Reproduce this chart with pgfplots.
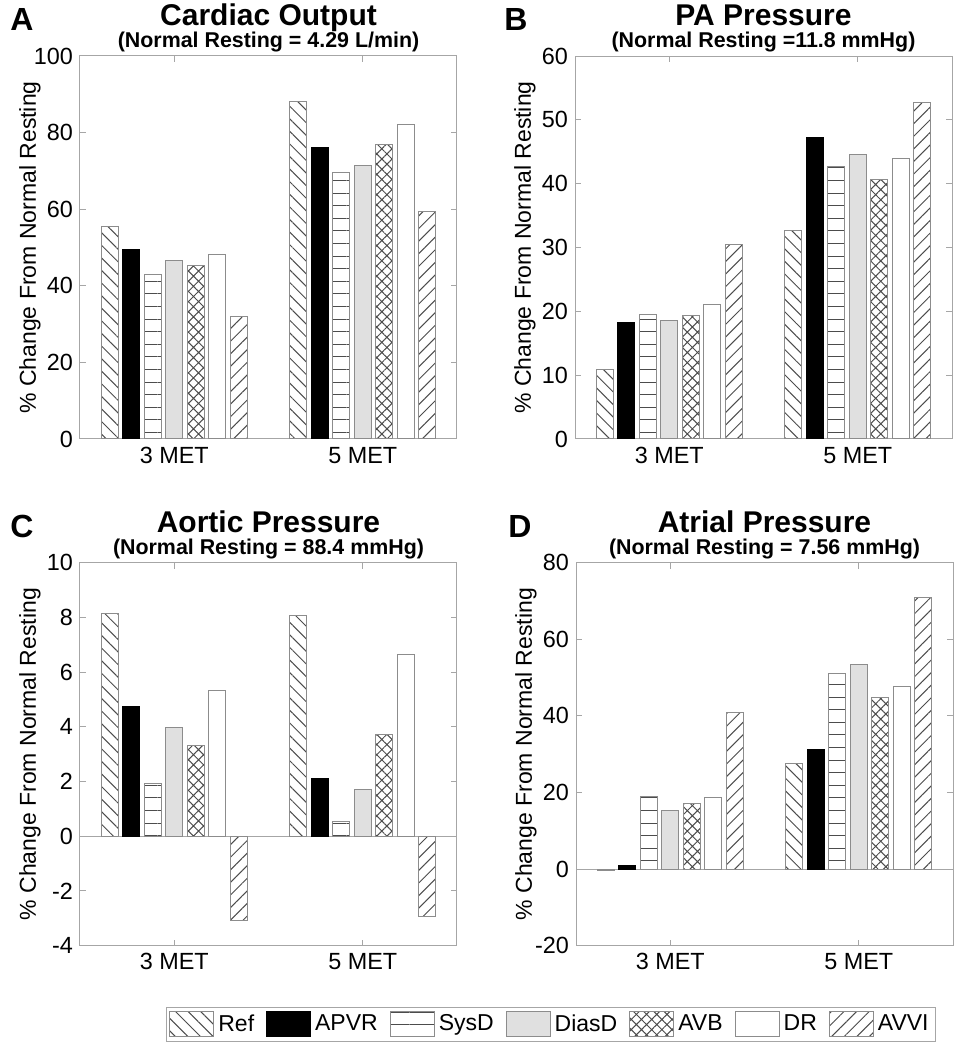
\documentclass[border=0pt]{standalone}
\usepackage{fontspec}
\setmainfont{Liberation Sans}
\usepackage{pgfplots}
\pgfplotsset{compat=1.18}
\usetikzlibrary{patterns.meta}
\definecolor{axgray}{gray}{0.65}
\definecolor{hatch}{gray}{0.3}
\definecolor{barEdge}{gray}{0.55}
\definecolor{dias}{gray}{0.88}

\pgfplotsset{
  panel/.style={
    scale only axis, width=188.5pt, height=191.5pt,
    xmin=0.5, xmax=2.5, xtick={1,2}, xticklabels={3 MET,5 MET},
    tick align=inside, tick pos=both, major tick length=3pt,
    axis line style={axgray, line width=0.5pt},
    every tick/.style={axgray, line width=0.5pt},
    tick label style={font=\fontsize{11.7}{13}\selectfont, black},
    xticklabel style={text height=8.5pt, text depth=0pt},
    /pgf/number format/assume math mode=true,
    ylabel={\% Change From Normal Resting},
    ylabel style={font=\fontsize{11.5}{13}\selectfont, at={(axis description cs:-0.1326,0.5)}, anchor=center},
    clip=false,
  },
  bw/.style={ybar, bar width=0.0915, draw=barEdge, line width=0.5pt,
    legend image code/.code={\draw[##1, bar shift=0pt] (0pt,-6.25pt) rectangle (22pt,6.25pt);}},
  sRef/.style={bw, bar shift=-0.342, pattern={Lines[angle=-45,distance=4.45pt,line width=0.5pt]}, pattern color=hatch},
  sAPVR/.style={bw, bar shift=-0.228, fill=black, draw=black},
  sSysD/.style={bw, bar shift=-0.114, pattern={Lines[angle=0,distance=6.3pt,line width=0.5pt]}, pattern color=hatch},
  sDiasD/.style={bw, bar shift=0, fill=dias},
  sAVB/.style={bw, bar shift=0.114, pattern={Hatch[angle=45,distance=3.6pt,line width=0.5pt]}, pattern color=hatch},
  sDR/.style={bw, bar shift=0.228, fill=white},
  sAVVI/.style={bw, bar shift=0.342, pattern={Lines[angle=45,distance=4.45pt,line width=0.5pt]}, pattern color=hatch},
}

\begin{document}
\begin{tikzpicture}
\path[use as bounding box] (0,0) rectangle (477.5pt,525pt);

% ---------------- Panel A ----------------
\begin{axis}[panel, at={(40pt,305.5pt)}, anchor=south west,
  ymin=0, ymax=100, ytick={0,20,...,100}]
\addplot[sRef]   coordinates {(1,55.4) (2,88.1)};
\addplot[sAPVR]  coordinates {(1,49.6) (2,76.0)};
\addplot[sSysD]  coordinates {(1,43.0) (2,69.6)};
\addplot[sDiasD] coordinates {(1,46.5) (2,71.3)};
\addplot[sAVB]   coordinates {(1,45.2) (2,76.9)};
\addplot[sDR]    coordinates {(1,48.2) (2,82.1)};
\addplot[sAVVI]  coordinates {(1,32.0) (2,59.5)};
\end{axis}

% ---------------- Panel B ----------------
\begin{axis}[panel, at={(287.5pt,305.5pt)}, anchor=south west,
  ymin=0, ymax=60, ytick={0,10,...,60}]
\addplot[sRef]   coordinates {(1,10.9) (2,32.7)};
\addplot[sAPVR]  coordinates {(1,18.3) (2,47.2)};
\addplot[sSysD]  coordinates {(1,19.5) (2,42.7)};
\addplot[sDiasD] coordinates {(1,18.5) (2,44.6)};
\addplot[sAVB]   coordinates {(1,19.3) (2,40.6)};
\addplot[sDR]    coordinates {(1,21.1) (2,43.9)};
\addplot[sAVVI]  coordinates {(1,30.5) (2,52.7)};
\end{axis}

% ---------------- Panel C ----------------
\begin{axis}[panel, at={(40pt,52.15pt)}, anchor=south west,
  ymin=-4, ymax=10, ytick={-4,-2,...,10},
  legend columns=7,
  legend style={at={(1.2493,-0.2052)}, anchor=center, draw=axgray,
    font=\fontsize{11.5}{13}\selectfont, inner sep=1.5pt,
    /tikz/every even column/.append style={column sep=4pt}}]
\addplot[axgray, line width=0.5pt, forget plot] coordinates {(0.5,0) (2.5,0)};
\addplot[sRef]   coordinates {(1,8.15) (2,8.06)};
\addplot[sAPVR]  coordinates {(1,4.75) (2,2.13)};
\addplot[sSysD]  coordinates {(1,1.94) (2,0.55)};
\addplot[sDiasD] coordinates {(1,3.96) (2,1.72)};
\addplot[sAVB]   coordinates {(1,3.30) (2,3.73)};
\addplot[sDR]    coordinates {(1,5.33) (2,6.63)};
\addplot[sAVVI]  coordinates {(1,-3.08) (2,-2.93)};
\legend{Ref,APVR,SysD,DiasD,AVB,DR,AVVI}
\end{axis}

% ---------------- Panel D ----------------
\begin{axis}[panel, at={(288pt,52.15pt)}, anchor=south west,
  ymin=-20, ymax=80, ytick={-20,0,...,80}]
\addplot[axgray, line width=0.5pt, forget plot] coordinates {(0.5,0) (2.5,0)};
\addplot[sRef]   coordinates {(1,-0.4) (2,27.6)};
\addplot[sAPVR]  coordinates {(1,0.96) (2,31.3)};
\addplot[sSysD]  coordinates {(1,18.9) (2,51.0)};
\addplot[sDiasD] coordinates {(1,15.4) (2,53.4)};
\addplot[sAVB]   coordinates {(1,17.2) (2,44.8)};
\addplot[sDR]    coordinates {(1,18.8) (2,47.6)};
\addplot[sAVVI]  coordinates {(1,41.0) (2,70.9)};
\end{axis}

% ---------------- Titles ----------------
\tikzset{ttl/.style={anchor=base, inner sep=0pt, font=\bfseries\fontsize{15}{18}\selectfont},
         sub/.style={anchor=base, inner sep=0pt, font=\bfseries\fontsize{10.7}{12}\selectfont},
         let/.style={anchor=base west, inner sep=0pt, font=\bfseries\fontsize{16}{19}\selectfont}}
\node[ttl] at (134.25pt,512pt) {Cardiac Output};
\node[sub] at (134.25pt,501.2pt) {(Normal Resting = 4.29 L/min)};
\node[ttl] at (381.75pt,512pt) {PA Pressure};
\node[sub] at (381.75pt,501.2pt) {(Normal Resting =11.8 mmHg)};
\node[ttl] at (134.25pt,258.65pt) {Aortic Pressure};
\node[sub] at (134.25pt,247.85pt) {(Normal Resting = 88.4 mmHg)};
\node[ttl] at (382.25pt,258.65pt) {Atrial Pressure};
\node[sub] at (382.25pt,247.85pt) {(Normal Resting = 7.56 mmHg)};
\node[let] at (5pt,509.5pt) {A};
\node[let] at (252pt,509.5pt) {B};
\node[let] at (5pt,256.15pt) {C};
\node[let] at (254pt,256.15pt) {D};
\end{tikzpicture}
\end{document}
